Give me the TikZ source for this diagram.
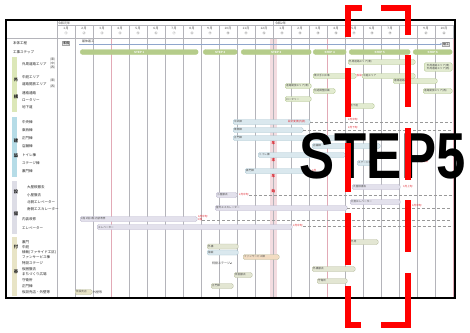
\documentclass[tikz,border=0pt]{standalone}
\usepackage{fontspec}
\setmainfont{Liberation Sans}
\newfontfamily\jp{Noto Sans CJK JP}
\usetikzlibrary{arrows.meta}
\definecolor{stepgreen}{HTML}{B5CC8A}
\definecolor{gaifill}{HTML}{E2EBD0}
\definecolor{gaidraw}{HTML}{AFC28C}
\definecolor{kenfill}{HTML}{DAE8EE}
\definecolor{kendraw}{HTML}{A9C4D0}
\definecolor{setfill}{HTML}{E3E1EC}
\definecolor{setdraw}{HTML}{B9B5CB}
\definecolor{futfill}{HTML}{E3E6D3}
\definecolor{futdraw}{HTML}{B5BA9C}
\definecolor{peach}{HTML}{F2DCC2}
\definecolor{sbgreen}{HTML}{DCE7B8}
\definecolor{sbblue}{HTML}{B6DCE7}
\definecolor{sbgray}{HTML}{DDDDE6}
\definecolor{sbtan}{HTML}{E8E4C6}
\definecolor{gridc}{HTML}{B4B4BA}
\definecolor{pinkc}{HTML}{E2AAB6}
\definecolor{bandc}{HTML}{F3DCE0}
\definecolor{redt}{HTML}{E0202A}
\definecolor{bluel}{HTML}{8FA6CC}
\definecolor{bigred}{HTML}{FF0000}
\newcommand\gbar[6]{\node[#5, minimum width={(#3-#2)*1pt}, anchor=west, label={[bartext]west:{#6}}] (#1) at (#2,#4) {};}
\newcommand\rlab[4]{\node[rowlbl] (#1) at (#2,#3) {#4};}
\begin{document}
\begin{tikzpicture}[x=1pt,y=-1pt,
  gridl/.style={draw=gridc, line width=0.55pt},
  pinkl/.style={draw=pinkc, line width=0.6pt},
  tiny/.style={font=\jp\fontsize{3}{3.3}\selectfont, inner sep=0pt, text=black!75},
  rowlbl/.style={font=\jp\fontsize{3.5}{3.8}\selectfont, anchor=west, inner sep=0pt, text=black!85},
  sidech/.style={font=\jp\bfseries\fontsize{4.3}{4.3}\selectfont, inner sep=0pt, text=black!85},
  barbase/.style={rounded corners=1.5pt, minimum height=5pt, inner sep=0pt, line width=0.4pt},
  stepbar/.style={barbase, fill=stepgreen, draw=stepgreen, rounded corners=2.5pt, text=white, font=\fontsize{3}{3}\selectfont\bfseries},
  gaibar/.style={barbase, fill=gaifill, draw=gaidraw},
  kenbar/.style={barbase, fill=kenfill, draw=kendraw},
  setbar/.style={barbase, fill=setfill, draw=setdraw},
  futbar/.style={barbase, fill=futfill, draw=futdraw},
  graybox/.style={draw=gray!70, fill=gray!20, inner sep=0.6pt, font=\jp\fontsize{3}{3}\selectfont},
  bartext/.style={anchor=west, xshift=1pt, font=\jp\fontsize{2.6}{3}\selectfont, inner sep=0pt, text=black!70},
  redtxt/.style={font=\jp\fontsize{2.6}{3}\selectfont, text=redt, inner sep=0pt, anchor=west},
  redv/.style={font=\jp\bfseries\fontsize{3.6}{3.6}\selectfont, text=redt, inner sep=0pt},
  dline/.style={densely dashed, draw=gray!80, line width=0.45pt},
  blueline/.style={draw=bluel, line width=0.6pt}
]
\useasboundingbox (0,0) rectangle (470,332);
\fill[white] (0,0) rectangle (470,332);
% band and grid
\fill[bandc] (270,38) rectangle (277,297);
\foreach \i in {0,...,22} {\draw[gridl] ({57+18*\i},25) -- ({57+18*\i},297);}
\draw[gridl] (57,20) -- (57,297);
\draw[gridl] (273,20) -- (273,25);
\draw[pinkl] (111,38) -- (111,297);
\draw[pinkl] (327,38) -- (327,297);
\draw[pinkl] (453,38) -- (453,297);
\draw[gridl] (57,25) -- (453,25);
\draw[gridl] (6,38) -- (455,38);
% header
\node[tiny, anchor=west] (hy1) at (58,23) {令和元年};
\node[tiny, anchor=west] (hy2) at (275,23) {令和2年};
\foreach \i/\m/\c in {0/1/①,1/2/②,2/3/③,3/4/④,4/5/⑤,5/6/⑥,6/7/⑦,7/8/⑧,8/9/⑨,9/10/⑩,10/11/⑪,11/12/⑫,12/1/⑬,13/2/⑭,14/3/⑮,15/4/⑯,16/5/⑰,17/6/⑱,18/7/⑲,19/8/⑳,20/9/㉑,21/10/㉒} {
  \node[tiny] (mo\i) at ({66+18*\i},28.8) {\m\,月};
  \node[tiny] (cn\i) at ({66+18*\i},33.6) {\c};
}
% side bars
\fill[sbgreen] (12,57) rectangle (17,112);
\fill[sbblue] (12,117) rectangle (17,177);
\fill[sbgray] (12,181) rectangle (17,234);
\fill[sbtan] (12,237) rectangle (17,296);
\node[sidech] (sa1) at (16,80) {外};
\node[sidech] (sa2) at (16,97) {構};
\node[sidech] (sb1) at (16,141) {建};
\node[sidech] (sb2) at (16,156) {築};
\node[sidech] (sc1) at (16,192) {設};
\node[sidech] (sc2) at (16,214) {備};
\node[sidech] (sd1) at (16,247) {付};
\node[sidech] (sd2) at (16,272) {帯};
% row labels
\rlab{l1}{13}{43}{本体工程}
\rlab{l2}{13}{52}{工事ステップ}
\rlab{l3}{22}{64}{外周道路エリア}
\node[tiny, anchor=west] (l3a) at (50,60) {(東)};
\node[tiny, anchor=west] (l3b) at (50,64) {(中)};
\node[tiny, anchor=west] (l3c) at (50,68) {(西)};
\rlab{l4}{22}{77}{中庭エリア}
\rlab{l5}{22}{84}{道路開放エリア}
\node[tiny, anchor=west] (l5a) at (50,81) {(東)};
\node[tiny, anchor=west] (l5b) at (50,87) {(西)};
\rlab{l6}{22}{93}{連絡通路}
\rlab{l7}{22}{100}{ロータリー}
\rlab{l8}{22}{107}{地下道}
\rlab{l9}{22}{122}{中央棟}
\rlab{l10}{22}{130}{東西棟}
\rlab{l11}{22}{138}{正門棟}
\rlab{l12}{22}{146}{店舗棟}
\rlab{l13}{22}{155}{トイレ棟}
\rlab{l14}{22}{163}{ステージ棟}
\rlab{l15}{22}{171}{裏門棟}
\rlab{l16}{27}{187}{大屋根撤去}
\rlab{l17}{27}{195}{小屋撤去}
\rlab{l18}{27}{202}{北側エレベーター}
\rlab{l19}{27}{209}{南側エスカレーター}
\rlab{l20}{22}{219}{内装改修}
\rlab{l21}{22}{228}{エレベーター}
\rlab{l22}{22}{242}{裏門}
\rlab{l23}{22}{247}{中庭}
\rlab{l24}{22}{252}{植栽(ファサイド工区)}
\rlab{l25}{22}{257.5}{ファンサービス棟}
\rlab{l26}{22}{263}{特設ステージ}
\rlab{l27}{22}{269}{仮囲撤去}
\rlab{l28}{22}{274.5}{まちづくり広場}
\rlab{l29}{22}{280}{守衛所}
\rlab{l30}{22}{286}{正門棟}
\rlab{l31}{22}{292}{仮設売店・外壁等}
% main process
\node[graybox] (prep) at (66,43) {準備};
\node[tiny, anchor=west] (kutai) at (82,41.2) {躯体着工};
\coordinate (hs) at (79,44);
\node[graybox] (done) at (446,44) {竣工};
\draw[blueline, -{Stealth[length=2pt,width=2pt]}] (hs) -- (done.west);
% steps
\node[stepbar, minimum width=118pt, anchor=west] (s1) at (80,52) {STEP 1};
\node[stepbar, minimum width=34pt, anchor=west] (s2) at (203,52) {STEP 2};
\node[stepbar, minimum width=70pt, anchor=west] (s3) at (241,52) {STEP 3};
\node[stepbar, minimum width=33pt, anchor=west] (s4) at (313,52) {STEP 4};
\node[stepbar, minimum width=61pt, anchor=west] (s5) at (349,52) {STEP 5};
\node[stepbar, minimum width=39pt, anchor=west] (s6) at (413,52) {STEP 6};
\coordinate (R) at (452,0);
% exterior
\gbar{g1}{348}{415}{62}{gaibar}{外周道路エリア(東)}
\node[gaibar, minimum width=28pt, minimum height=8.5pt, anchor=west, align=left, font=\jp\fontsize{2.6}{3.4}\selectfont, text=black!70] (g2) at (424,67) {外周道路エリア(東)\\外周道路エリア(西)};
\gbar{g4}{313}{356}{76}{gaibar}{東大手口工事}
\node[redtxt] (rg4) at (356.5,76) {仮設};
\gbar{g5}{362}{415}{76}{gaibar}{中庭エリア}
\gbar{g6}{393}{437}{81}{gaibar}{連絡通路(東)}
\gbar{g7}{285}{311}{86}{gaibar}{道路開放エリア(東)}
\gbar{g8}{313}{335}{91}{gaibar}{別途調整区画}
\gbar{g9}{423}{452}{91}{gaibar}{道路開放エリア(西)}
\gbar{g10}{285}{311}{99}{gaibar}{ロータリー}
\gbar{g11}{349}{374}{106}{gaibar}{地下道}
% buildings
\gbar{k1}{233}{310}{122}{kenbar}{中央棟}
\node[redtxt] (rk1) at (288,122) {設計変更(内装)};
\draw[dline] (k1.east) -- (k1.east -| R);
\node[redtxt] (rk1b) at (348,120) {2月中旬};
\gbar{k2}{233}{303}{130}{kenbar}{東西棟}
\draw[dline] (k2.east) -- (k2.east -| R);
\node[redtxt] (rk2) at (348,128) {2月下旬};
\gbar{k3}{233}{345}{138}{kenbar}{正門棟}
\gbar{k4}{312}{380}{146}{kenbar}{店舗棟}
\gbar{k5}{258}{345}{155}{kenbar}{トイレ棟}
\gbar{k6}{357}{375}{163}{kenbar}{ステージ棟}
\node[redtxt] (rk6) at (417,162) {12月完成};
\gbar{k7}{245}{310}{171}{kenbar}{裏門棟}
\node[redtxt] (rk7) at (312,171) {4月};
% equipment
\gbar{e1}{352}{400}{187}{setbar}{大屋根撤去}
\node[redtxt] (re1) at (403,187) {3月上旬};
\gbar{e2}{216}{237}{195}{setbar}{小屋撤去}
\node[redtxt] (re2) at (239,195) {2月中旬};
\draw[dline] (re2.east) -- (re2.east -| R);
\gbar{e3}{350}{400}{202}{setbar}{北側エレベーター}
\gbar{e4}{215}{347}{208}{setbar}{屋外エスカレーター}
\draw[dline] (e4.east) -- (e4.east -| R);
\node[redtxt] (re4) at (412,205.5) {4月中旬};
\gbar{e5}{80}{197}{219}{setbar}{1階 2階 3階 内装改修}
\node[redtxt] (re5) at (198,216.5) {4月中旬};
\node[redtxt] (re5b) at (198,219.8) {1階};
\draw[dline] (re5b.east) -- (re5b.east -| R);
\gbar{e6}{97}{292}{227}{setbar}{エレベーター}
\node[redtxt] (re6) at (293,226) {2月中旬};
\draw[dline] (re6.east) -- (re6.east -| R);
% others
\gbar{f1}{207}{238}{246.5}{futbar}{外構}
\gbar{f2}{207}{238}{252.5}{kenbar}{植栽}
\node[barbase, fill=peach, draw=futdraw, minimum width=36pt, anchor=west, label={[bartext]west:{ファンサービス棟}}] (f3) at (243,257) {};
\node[tiny, anchor=west] (f4) at (212,263) {特設ステージ};
\coordinate (f4e) at (232,263);
\draw[gray, line width=0.3pt, -{Stealth[length=1.2pt,width=1.2pt]}] (f4.east) -- (f4e);
\gbar{f5}{234}{252}{275}{futbar}{仮囲撤去}
\gbar{f6}{211}{233}{286}{futbar}{正門棟}
\gbar{f7}{350}{378}{242}{futbar}{外周}
\gbar{f8}{312}{355}{269}{futbar}{外構撤去}
\gbar{f9}{317}{347}{281}{futbar}{守衛所}
\node[barbase, fill=sbtan, draw=futdraw, minimum width=17pt, anchor=west, label={[bartext]west:{仮設売店}}] (f10) at (75,292) {};
\node[tiny, anchor=west] (f10b) at (93,292) {外壁等};
% year-end vertical text
\node[redv] (ny1) at (273.5,143) {年};
\node[redv] (ny2) at (273.5,160) {末};
\node[redv] (ny3) at (273.5,176) {年};
\node[redv] (ny4) at (273.5,191) {始};
% frame
\draw[line width=2.3pt] (6,20) rectangle (455,298);
% big label
\node[anchor=base west, inner sep=0pt, font=\fontsize{65}{65}\selectfont\bfseries] (big) at (299,178) {\scalebox{0.81}[1]{STEP5}};
% red dashed bracket
\fill[bigred] (345,5) rectangle (362,11);
\fill[bigred] (381,5) rectangle (411,11);
\fill[bigred] (345,322) rectangle (361,328);
\fill[bigred] (381,322) rectangle (411,328);
\foreach \a/\b in {5/37,68/117,143/192,213/265,286/328} {\fill[bigred] (345,\a) rectangle (351,\b);}
\foreach \a/\b in {5/35,55/107,128/180,200/252,273/328} {\fill[bigred] (405,\a) rectangle (411,\b);}
\end{tikzpicture}
\end{document}
